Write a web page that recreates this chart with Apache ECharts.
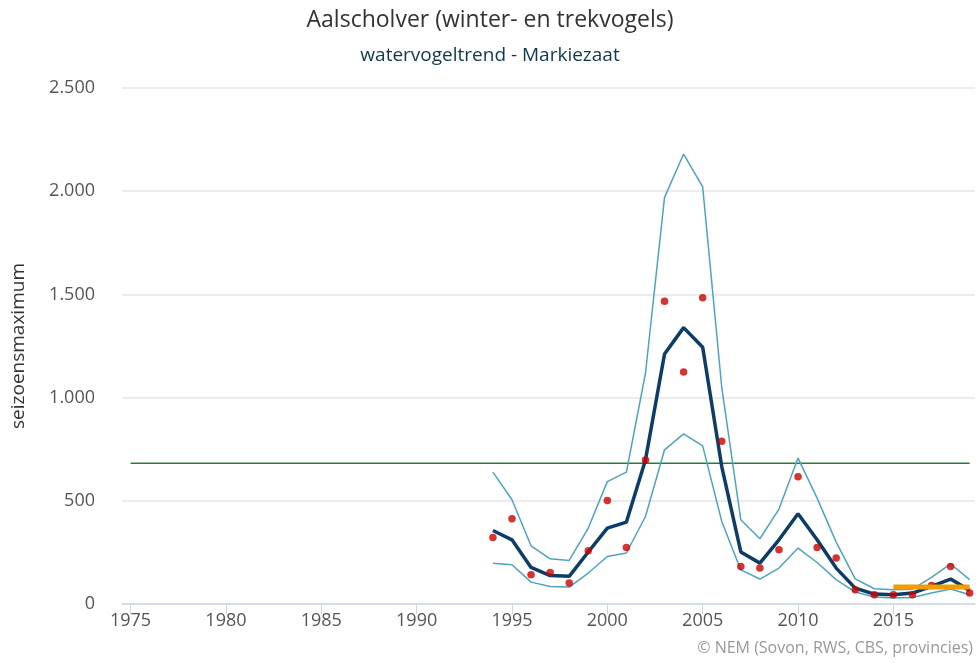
<!DOCTYPE html>
<html>
<head>
<meta charset="utf-8">
<script src="https://cdn.jsdelivr.net/npm/echarts@6/dist/echarts.min.js"></script>
<style>
  html, body { margin: 0; padding: 0; background: #fff; }
  #chart { width: 980px; height: 663px; }
</style>
</head>
<body>
<div id="chart"></div>
<script>
var years = [1994, 1995, 1996, 1997, 1998, 1999, 2000, 2001, 2002, 2003, 2004, 2005, 2006,
  2007, 2008, 2009, 2010, 2011, 2012, 2013, 2014, 2015, 2016, 2017, 2018, 2019]
var upper = [639, 505, 282, 219, 211, 368, 593, 639, 1118, 1970, 2180, 2021, 1050,
  408, 316, 460, 707, 513, 300, 122, 74, 69, 72, 129, 194, 118]
var trend = [356, 311, 177, 138, 134, 252, 368, 397, 698, 1211, 1339, 1244, 666,
  252, 198, 311, 437, 311, 174, 77, 48, 45, 53, 85, 121, 66]
var lower = [198, 190, 106, 85, 82, 150, 230, 247, 424, 747, 824, 766, 400,
  165, 121, 174, 271, 201, 118, 58, 34, 29, 32, 53, 73, 45]
var counts = [322, 413, 142, 153, 102, 258, 501, 274, 698, 1467, 1124, 1484, 789,
  182, 174, 263, 616, 274, 223, 69, 45, 45, 45, 90, 182, 53]
var refLevel = [[1975, 682], [2019, 682]]
var recentLevel = [[2015, 82], [2019, 82]]
var xTicks = [1975, 1980, 1985, 1990, 1995, 2000, 2005, 2010, 2015]

function pairs(vals) {
  return years.map(function (y, i) { return [y, vals[i]] })
}

var font = '"Open Sans", sans-serif'
var chart = echarts.init(document.getElementById('chart'))
chart.setOption({
  animation: false,
  title: [
    {
      text: 'Aalscholver (winter- en trekvogels)',
      left: 'center',
      top: 4,
      textStyle: { fontFamily: font, fontSize: 23, fontWeight: 'normal', color: '#333333' }
    },
    {
      text: 'watervogeltrend - Markiezaat',
      left: 'center',
      top: 41,
      textStyle: { fontFamily: font, fontSize: 19, fontWeight: 'normal', color: '#0d3a4a' }
    },
    {
      text: '© NEM (Sovon, RWS, CBS, provincies)',
      right: 2,
      bottom: 2,
      textStyle: { fontFamily: font, fontSize: 16, fontWeight: 'normal', color: '#999999' }
    }
  ],
  grid: { left: 122, right: 5, top: 88, bottom: 59, outerBoundsMode: 'none' },
  xAxis: {
    type: 'value',
    min: 1974.55,
    max: 2019.28,
    axisLine: { lineStyle: { color: '#ccd6eb', width: 1.5 } },
    axisTick: { show: true, length: 10, customValues: xTicks, lineStyle: { color: '#ccd6eb' } },
    axisLabel: {
      customValues: xTicks, color: '#555555', fontFamily: font, fontSize: 18, margin: 8,
      formatter: function (v) { return String(v) }
    },
    splitLine: { show: false }
  },
  yAxis: {
    type: 'value',
    min: 0,
    max: 2500,
    interval: 500,
    name: 'seizoensmaximum',
    nameLocation: 'middle',
    nameGap: 94,
    nameTextStyle: { fontFamily: font, fontSize: 19, color: '#333333' },
    axisLine: { show: false },
    axisTick: { show: false },
    axisLabel: {
      color: '#555555',
      fontFamily: font,
      fontSize: 18,
      margin: 27,
      formatter: function (v) { return String(v).replace(/\B(?=(\d{3})+(?!\d))/g, '.') }
    },
    splitLine: { lineStyle: { color: '#e6e6e6', width: 1.5 } }
  },
  series: [
    {
      type: 'line', data: refLevel, symbol: 'none',
      lineStyle: { color: '#2a7a3a', width: 1.5 }, z: 1
    },
    {
      type: 'line', data: pairs(upper), symbol: 'none',
      lineStyle: { color: '#4fa3c2', width: 1.5 }, z: 2
    },
    {
      type: 'line', data: pairs(lower), symbol: 'none',
      lineStyle: { color: '#4fa3c2', width: 1.5 }, z: 2
    },
    {
      type: 'line', data: pairs(trend), symbol: 'none',
      lineStyle: { color: '#0c3c68', width: 3.5 }, z: 3
    },
    {
      type: 'scatter', data: pairs(counts), symbol: 'circle', symbolSize: 7.5,
      itemStyle: { color: '#cc0000' }, z: 4
    },
    {
      type: 'line', data: recentLevel, symbol: 'none',
      lineStyle: { color: '#f39c00', width: 5 }, z: 5
    }
  ]
})
</script>
</body>
</html>
